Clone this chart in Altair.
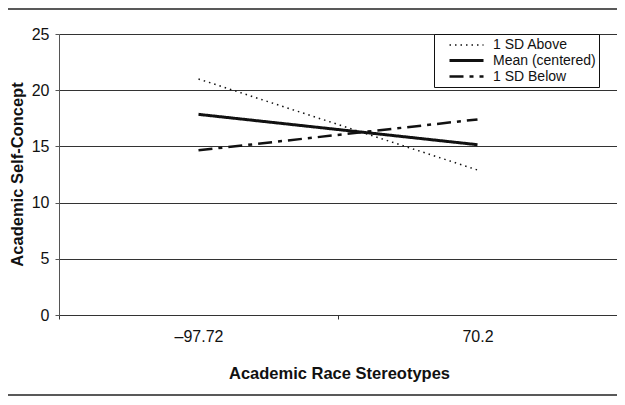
import altair as alt
import pandas as pd

# ---- data ----
x_labels = ["–97.72", "70.2"]
series = ["1 SD Above", "Mean (centered)", "1 SD Below"]
above = [21.0, 12.9]
mean_c = [17.85, 15.15]
below = [14.65, 17.4]
y_ticks = [0, 5, 10, 15, 20, 25]

rows = []
for name, vals in zip(series, [above, mean_c, below]):
    for xl, v in zip(x_labels, vals):
        rows.append({"stereo": xl, "concept": v, "group": name})
df = pd.DataFrame(rows)

FONT = "Liberation Sans"
W, H = 558, 281
PAD_L, PAD_T, PAD_R, PAD_B = 51, 26, 0, 82

dash_range = [[1.5, 4], [1, 0], [14, 6, 4, 6]]
width_range = [1.5, 3.0, 2.5]

legend_kw = dict(
    title=None,
    orient="none",
    legendX=375,
    legendY=0,
    symbolType="M-1,0H3.86",
    symbolSize=196,
    symbolStrokeColor="#111",
    symbolFillColor="transparent",
    labelFont=FONT,
    labelFontSize=14,
    labelColor="#111",
    labelOffset=28,
    symbolOffset=11,
    rowPadding=0,
    padding=3,
    strokeColor="#111",
    fillColor="white",
    labelExpr="datum.label + '        '",
)

lines = alt.Chart(df).mark_line(color="#111", strokeCap="butt").encode(
    x=alt.X(
        "stereo:N",
        sort=x_labels,
        scale=alt.Scale(type="band", paddingInner=0, paddingOuter=0),
        axis=alt.Axis(
            title="Academic Race Stereotypes",
            labelAngle=0,
            tickBand="extent",
            grid=False,
            tickSize=4,
            tickColor="#333",
            domainColor="#333",
            labelFont=FONT,
            labelFontSize=16,
            labelColor="#111",
            labelPadding=9,
            titleFont=FONT,
            titleFontSize=16.5,
            titleFontWeight="bold",
            titleColor="#111",
            titleX=280,
            titleY=63,
            titleBaseline="alphabetic",
            titleAlign="center",
        ),
    ),
    y=alt.Y(
        "concept:Q",
        scale=alt.Scale(domain=[0, 25], nice=False),
        axis=alt.Axis(
            title="Academic Self-Concept",
            values=y_ticks,
            grid=True,
            gridColor="#333",
            gridWidth=1,
            domainColor="#555",
            tickColor="#555",
            tickSize=4,
            labelFont=FONT,
            labelFontSize=16,
            labelColor="#111",
            labelPadding=6,
            titleFont=FONT,
            titleFontSize=16.5,
            titleFontWeight="bold",
            titleColor="#111",
            titleX=-42,
            titleY=140,
            titleAngle=270,
            titleBaseline="middle",
            titleAlign="center",
        ),
    ),
    strokeDash=alt.StrokeDash(
        "group:N",
        sort=series,
        scale=alt.Scale(domain=series, range=dash_range),
        legend=alt.Legend(**legend_kw),
    ),
    strokeWidth=alt.StrokeWidth(
        "group:N",
        sort=series,
        scale=alt.Scale(type="ordinal", domain=series, range=width_range),
        legend=alt.Legend(**legend_kw),
    ),
)

one = alt.Data(values=[{"k": 1}])
bottom_frame = alt.Chart(one).mark_rule(color="#222", strokeWidth=1.5).encode(
    x=alt.value(-PAD_L), x2=alt.value(W + PAD_R), y=alt.value(H + 80)
)
top_frame = alt.Chart(one).mark_rule(color="#222", strokeWidth=1.5).encode(
    x=alt.value(-PAD_L), x2=alt.value(W + PAD_R), y=alt.value(-PAD_T + 1)
)

chart = (
    alt.layer(lines, bottom_frame, top_frame)
    .properties(
        width=W,
        height=H,
        autosize=alt.AutoSizeParams(type="none"),
        padding={"left": PAD_L, "top": PAD_T, "right": PAD_R, "bottom": PAD_B},
        background="white",
    )
    .configure_view(stroke=None)
)

chart.save("out.html", embed_options={"renderer": "svg", "actions": False})
